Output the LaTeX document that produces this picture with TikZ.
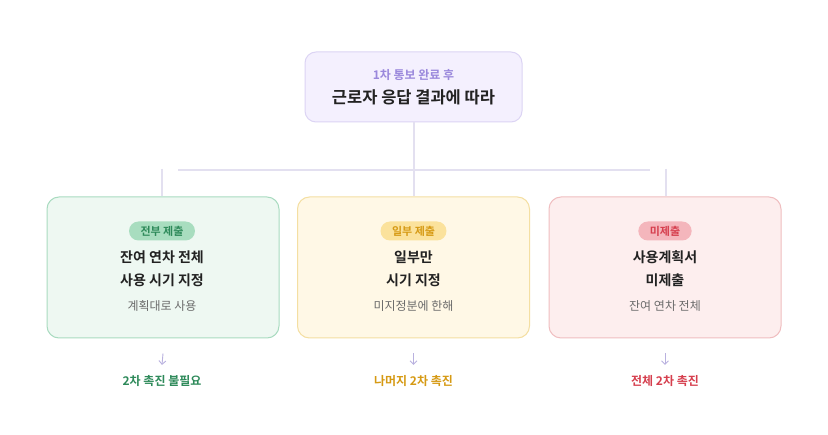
\documentclass[tikz,border=0pt]{standalone}
\usepackage{fontspec}
\setmainfont{Noto Sans CJK KR}
\newfontfamily\krb{Noto Sans CJK KR Bold}
\usetikzlibrary{arrows.meta,positioning}
\definecolor{lnc}{HTML}{E3E0F0}
\definecolor{arc}{HTML}{B9B1DF}
\definecolor{topfill}{HTML}{F4F0FE}
\definecolor{topdraw}{HTML}{DCD4F4}
\definecolor{topsub}{HTML}{9A88DC}
\definecolor{ink}{HTML}{222222}
\definecolor{grey}{HTML}{6B6B6B}
\definecolor{gfill}{HTML}{EEF8F2}
\definecolor{gdraw}{HTML}{A9DBC0}
\definecolor{gpill}{HTML}{A8DDBF}
\definecolor{gtext}{HTML}{2E8A5A}
\definecolor{yfill}{HTML}{FFF8E6}
\definecolor{ydraw}{HTML}{F4DFA2}
\definecolor{ypill}{HTML}{FBE29C}
\definecolor{ytext}{HTML}{D69A14}
\definecolor{rfill}{HTML}{FDEEEE}
\definecolor{rdraw}{HTML}{F0BEC0}
\definecolor{rpill}{HTML}{F4B6BC}
\definecolor{rtext}{HTML}{D63F4E}
\tikzset{
  x=1pt,y=1pt,
  card/.style={draw, line width=1pt, rounded corners=12pt, minimum width=232pt, minimum height=141pt, inner sep=0pt},
  pill/.style={rounded corners=9.5pt, minimum height=19pt, inner xsep=11.5pt, inner ysep=0pt, font=\krb\fontsize{11}{12}\selectfont},
  ttl/.style={font=\krb\fontsize{14}{23}\selectfont, text=ink, align=center},
  sub/.style={font=\fontsize{12}{14}\selectfont, text=grey},
  res/.style={font=\krb\fontsize{12}{14}\selectfont},
  conn/.style={draw=lnc, line width=2pt},
  arr/.style={draw=arc, line width=0.9pt, -{Straight Barb[length=3.5pt,width=7pt]}}
}
\begin{document}
\begin{tikzpicture}
\useasboundingbox (0,0) rectangle (828,-435);
\fill[white] (0,0) rectangle (828,-435);
% top node
\node[draw=topdraw, fill=topfill, line width=1pt, rounded corners=11pt, minimum width=217pt, minimum height=70pt] (top) at (413.5,-87) {};
\node[font=\krb\fontsize{12}{14}\selectfont, text=topsub] (topsub) at (413.5,-75) {1차 통보 완료 후};
\node[font=\krb\fontsize{16.5}{20}\selectfont, text=ink] (toptitle) at (413.5,-97.5) {근로자 응답 결과에 따라};
% cards
\node[card, draw=gdraw, fill=gfill] (c1) at (163,-267.5) {};
\node[card, draw=ydraw, fill=yfill] (c2) at (413.5,-267.5) {};
\node[card, draw=rdraw, fill=rfill] (c3) at (665,-267.5) {};
% connectors
\coordinate (hl) at (178,-170);
\coordinate (hr) at (650,-170);
\coordinate (s1) at (162,-169);
\coordinate (s3) at (666,-169);
\draw[conn] (hl) -- (hr);
\draw[conn] (top.south) -- (c2.north);
\draw[conn] (s1) -- (s1 |- c1.north);
\draw[conn] (s3) -- (s3 |- c3.north);
% card contents
\node[pill, fill=gpill, text=gtext] (p1) at (162,-231) {전부 제출};
\node[pill, fill=ypill, text=ytext] (p2) at (413.5,-231) {일부 제출};
\node[pill, fill=rpill, text=rtext] (p3) at (665,-231) {미제출};
\node[ttl] (t1) at (162,-268.5) {잔여 연차 전체\\사용 시기 지정};
\node[ttl] (t2) at (413.5,-268.5) {일부만\\시기 지정};
\node[ttl] (t3) at (665,-268.5) {사용계획서\\미제출};
\node[sub] (d1) at (162,-306) {계획대로 사용};
\node[sub] (d2) at (413.5,-306) {미지정분에 한해};
\node[sub] (d3) at (665,-306) {잔여 연차 전체};
% results
\node[res, text=gtext] (r1) at (162,-381) {2차 촉진 불필요};
\node[res, text=ytext] (r2) at (413.5,-381) {나머지 2차 촉진};
\node[res, text=rtext] (r3) at (665,-381) {전체 2차 촉진};
\draw[arr] ([yshift=-15pt]c1.south) -- ([yshift=7pt]r1.north);
\draw[arr] ([yshift=-15pt]c2.south) -- ([yshift=7pt]r2.north);
\draw[arr] ([yshift=-15pt]c3.south) -- ([yshift=7pt]r3.north);
\end{tikzpicture}
\end{document}
